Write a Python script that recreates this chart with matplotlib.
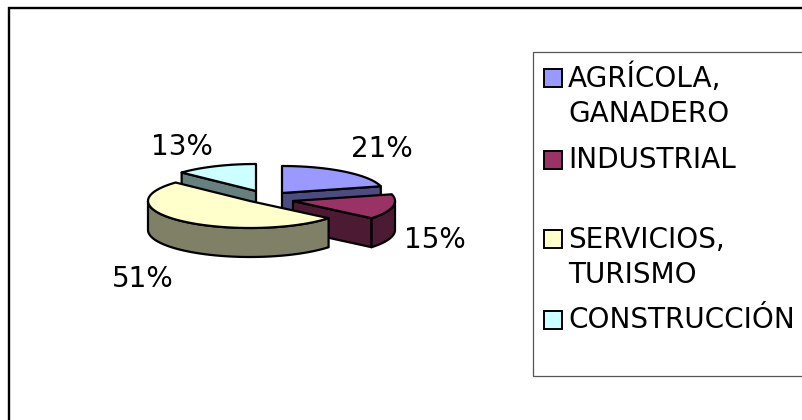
import numpy as np
import matplotlib
matplotlib.use("Agg")
import matplotlib.pyplot as plt
from matplotlib.patches import Polygon, Rectangle

categories = ["AGRÍCOLA,\nGANADERO", "INDUSTRIAL", "SERVICIOS,\nTURISMO", "CONSTRUCCIÓN"]
shares = [21, 15, 51, 13]
top_colors = ["#9999FF", "#993366", "#FFFFCC", "#CCFFFF"]
side_colors = ["#4C4C80", "#4D1A33", "#808066", "#668080"]

W, H = 803, 420
fig = plt.figure(figsize=(W / 100, H / 100), dpi=100)
ax = fig.add_axes([0, 0, 1, 1])
ax.set_xlim(0, W)
ax.set_ylim(H, 0)
ax.axis("off")

FONT = "DejaVu Sans"
FS = 20.1

# Chart frame (runs off the right and bottom edges) and legend box
ax.add_patch(Rectangle((9, 8), W + 10, H + 10, fc="white", ec="black", lw=1.7, zorder=0))
ax.add_patch(Rectangle((533, 52), W, 324, fc="white", ec="#555555", lw=0.9, zorder=1))

# Pie geometry (exploded, squashed 3-D)
RX, RY, DEPTH = 102, 27, 29
apexes = [(282, 193), (293, 201), (250, 201), (256, 191)]
label_pos = [(382, 157), (435, 248), (143, 287), (182, 155)]
draw_order = [0, 3, 1, 2]

fr = np.cumsum([0] + shares) / sum(shares)
lw = 1.6


def rim(cx, cy, a0, a1, dy=0):
    t = np.radians(np.linspace(a0, a1, 60))
    return np.column_stack([cx + RX * np.sin(t), cy + dy + RY * -np.cos(t)])


for z, i in enumerate(draw_order):
    cx, cy = apexes[i]
    a0, a1 = 360 * fr[i], 360 * fr[i + 1]
    base = 10 + z * 5
    # radial faces turned towards the viewer
    if np.sin(np.radians(a0)) < -1e-6:
        p = rim(cx, cy, a0, a0 + 1)[0]
        quad = [(cx, cy), p, (p[0], p[1] + DEPTH), (cx, cy + DEPTH)]
        ax.add_patch(Polygon(quad, fc=side_colors[i], ec="black", lw=lw, joinstyle="round", zorder=base))
    if np.sin(np.radians(a1)) > 1e-6:
        p = rim(cx, cy, a1 - 1, a1)[-1]
        quad = [(cx, cy), p, (p[0], p[1] + DEPTH), (cx, cy + DEPTH)]
        ax.add_patch(Polygon(quad, fc=side_colors[i], ec="black", lw=lw, joinstyle="round", zorder=base))
    # front part of the rim
    f0, f1 = max(a0, 90), min(a1, 270)
    if f1 > f0:
        ft, fb = rim(cx, cy, f0, f1), rim(cx, cy, f0, f1, DEPTH)
        ax.add_patch(Polygon(np.vstack([ft, fb[::-1]]), fc=side_colors[i], ec="black", lw=lw,
                             joinstyle="round", zorder=base + 1))
    # top surface
    ax.add_patch(Polygon(np.vstack([[(cx, cy)], rim(cx, cy, a0, a1)]), fc=top_colors[i], ec="black", lw=lw,
                         joinstyle="round", zorder=base + 2))
    ax.text(*label_pos[i], f"{shares[i]}%", fontsize=FS, family=FONT, color="black",
            ha="center", va="baseline", zorder=50)

# Legend
swatch_y = [78, 160, 239, 320]
baselines = [[87, 122], [168], [248, 283], [328]]
for i, cat in enumerate(categories):
    ax.add_patch(Rectangle((544, swatch_y[i] - 9), 18, 18, fc=top_colors[i], ec="black", lw=1.4, zorder=60))
    for line, y in zip(cat.split("\n"), baselines[i]):
        ax.text(568, y, line, fontsize=FS, family=FONT, color="black", ha="left", va="baseline", zorder=60)

fig.savefig("out.png", dpi=100, facecolor="white")
